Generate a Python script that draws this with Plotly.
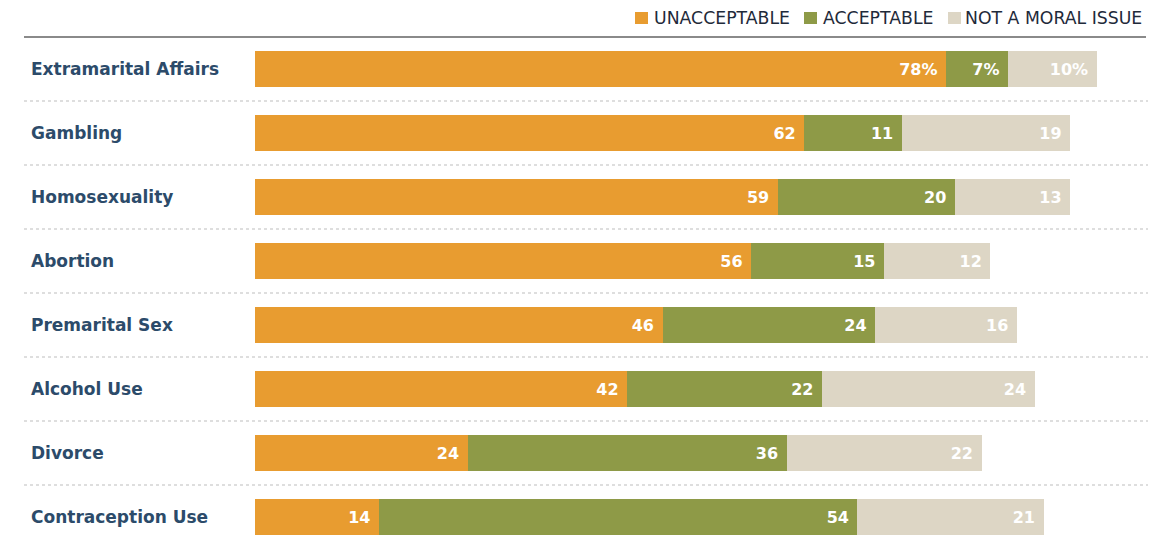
import plotly.graph_objects as go

categories = ["Extramarital Affairs", "Gambling", "Homosexuality", "Abortion",
              "Premarital Sex", "Alcohol Use", "Divorce", "Contraception Use"]
unacceptable = [78, 62, 59, 56, 46, 42, 24, 14]
acceptable = [7, 11, 20, 15, 24, 22, 36, 54]
not_moral = [10, 19, 13, 12, 16, 24, 22, 21]
series_names = ["UNACCEPTABLE", "ACCEPTABLE", "NOT A MORAL ISSUE"]
colors = ["#E89C30", "#8E9A47", "#DDD6C5"]

# layout geometry (pixels); page has an 8px body margin
OFF = 8
W, H = 1158, 544
L, R, T, B = 247, 25, 29, 0
PW, PH = W - L - R, H - T - B
ROW = 64.0
Y_TOP = -0.5
Y_BOT = Y_TOP + PH / ROW

def px2x(p):
    return (p - OFF - L) / PW

def py2y(p):
    return 1 - (p - OFF - T) / PH

ypos = list(range(len(categories)))
NB = "\u00a0"

def labels(vals, pct_first):
    out = []
    for i, v in enumerate(vals):
        s = f"{v}%" if (i == 0 and pct_first) else f"{v}"
        out.append(s + NB)
    return out

fig = go.Figure()
for name, vals, col in zip(series_names, [unacceptable, acceptable, not_moral], colors):
    fig.add_trace(go.Bar(
        y=ypos, x=vals, orientation="h", name=name,
        marker=dict(color=col, line=dict(width=0)),
        width=0.57,
        text=labels(vals, True),
        textposition="inside", insidetextanchor="end", textangle=0,
        constraintext="none",
        textfont=dict(family="DejaVu Sans", size=16, color="white", weight="bold"),
        showlegend=False, hoverinfo="x+name",
    ))

shapes = []
# top solid rule
shapes.append(dict(type="line", xref="paper", yref="paper",
                   x0=px2x(24), x1=px2x(1146), y0=py2y(37), y1=py2y(37),
                   line=dict(color="#8a8a8a", width=2)))
# dotted separators
for i in range(len(categories) - 1):
    shapes.append(dict(type="line", xref="paper", yref="y",
                       x0=px2x(24), x1=px2x(1148), y0=i + 0.5, y1=i + 0.5,
                       line=dict(color="#bdbdbd", width=1, dash="dot")))

annotations = []
for i, c in enumerate(categories):
    annotations.append(dict(x=px2x(29), y=i, xref="paper", yref="y",
                            text=c, showarrow=False, xanchor="left", yanchor="middle",
                            font=dict(family="DejaVu Sans", size=17, color="#2C4B6A", weight="bold")))

# custom legend
sq = [(635, 648), (804, 817), (948, 961)]
tx = [652, 821, 963]
for (a, b), t, name, col in zip(sq, tx, series_names, colors):
    shapes.append(dict(type="rect", xref="paper", yref="paper",
                       x0=px2x(a), x1=px2x(b), y0=py2y(24), y1=py2y(12),
                       fillcolor=col, line=dict(width=0)))
    annotations.append(dict(x=px2x(t), y=py2y(18), xref="paper", yref="paper",
                            text=name, showarrow=False, xanchor="left", yanchor="middle",
                            font=dict(family="DejaVu Sans", size=17.3, color="#1F2A3A")))

fig.update_layout(
    barmode="stack",
    width=W, height=H,
    margin=dict(l=L, r=R, t=T, b=B, pad=0),
    paper_bgcolor="white", plot_bgcolor="white",
    xaxis=dict(range=[0, 100], visible=False, fixedrange=True),
    yaxis=dict(range=[Y_BOT, Y_TOP], visible=False, fixedrange=True),
    shapes=shapes, annotations=annotations,
    uniformtext=dict(mode=False),
)

fig.write_html("out.html")
